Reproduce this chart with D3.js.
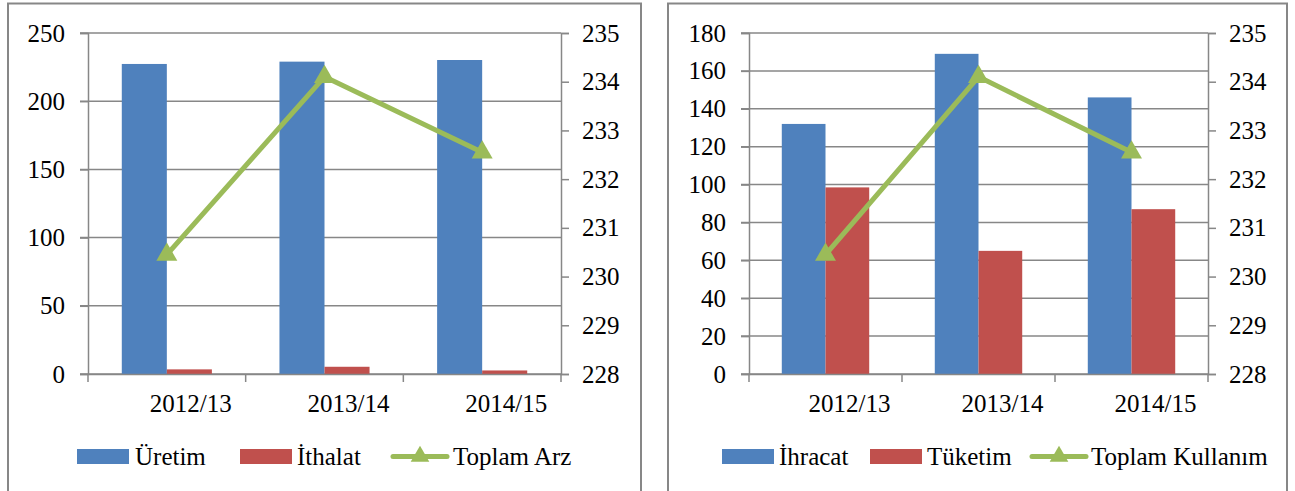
<!DOCTYPE html>
<html>
<head>
<meta charset="utf-8">
<script src="https://cdn.jsdelivr.net/npm/d3@7"></script>
<style>
  body { margin: 0; background: #fff; }
  svg text { font-family: "Liberation Serif", Tinos, "Times New Roman", Times, "DejaVu Serif", "Noto Serif", serif; fill: #000; }
</style>
</head>
<body>
<script>
// values
const years = ["2012/13", "2013/14", "2014/15"];
const uretim = [227.3, 229.0, 230.2];
const ithalat = [3.4, 5.3, 2.6];
const toplamArz = [230.45, 234.1, 232.55];
const ihracat = [132, 169, 146];
const tuketim = [98.5, 65, 87];
const toplamKullanim = [230.45, 234.1, 232.55];

const arzTicks = [0, 50, 100, 150, 200, 250];
const kullanimTicks = [0, 20, 40, 60, 80, 100, 120, 140, 160, 180];
const rightTicks = [228, 229, 230, 231, 232, 233, 234, 235];

const blue = "#4F81BD", red = "#C0504D", green = "#9BBB59", grid = "#878787";
const fontSize = 25;
const serif = '"Liberation Serif", Tinos, "Times New Roman", Times, "DejaVu Serif", "Noto Serif", serif';

const svg = d3.select("body").append("svg")
  .attr("width", 1295)
  .attr("height", 491);

const panels = [
  {
    box: [8, 641], x0: 88, x1: 561, y0: 33, y1: 374,
    ticks: arzTicks, bars: [uretim, ithalat], line: toplamArz,
    names: ["Üretim", "İthalat", "Toplam Arz"],
    legendX: [77, 135, 240, 297, 393, 453]
  },
  {
    box: [668, 1287], x0: 749, x1: 1208, y0: 33, y1: 374,
    ticks: kullanimTicks, bars: [ihracat, tuketim], line: toplamKullanim,
    names: ["İhracat", "Tüketim", "Toplam Kullanım"],
    legendX: [722, 779, 870, 927, 1032, 1091]
  }
];

const tri = d3.symbol(d3.symbolTriangle, 190);
const triSmall = d3.symbol(d3.symbolTriangle, 150);

panels.forEach(p => {
  const g = svg.append("g");

  // frame around each chart
  g.append("rect")
    .attr("x", p.box[0]).attr("y", 3.5)
    .attr("width", p.box[1] - p.box[0]).attr("height", 520)
    .attr("fill", "none").attr("stroke", grid).attr("stroke-width", 2);

  const x = d3.scaleBand().domain(years).range([p.x0, p.x1]);
  const xs = d3.scaleBand().domain([0, 1]).range([0, x.bandwidth()])
    .paddingInner(0).paddingOuter(0.75);
  const yL = d3.scaleLinear().domain([0, d3.max(p.ticks)]).range([p.y1, p.y0]);
  const yR = d3.scaleLinear().domain([d3.min(rightTicks), d3.max(rightTicks)]).range([p.y1, p.y0]);

  // gridlines
  g.append("g").selectAll("line").data(p.ticks).join("line")
    .attr("x1", p.x0 - 8).attr("x2", p.x1)
    .attr("y1", d => yL(d)).attr("y2", d => yL(d))
    .attr("stroke", grid).attr("stroke-width", 1.5);

  // bars
  p.bars.forEach((series, si) => {
    g.append("g").selectAll("rect").data(series).join("rect")
      .attr("x", (d, i) => x(years[i]) + xs(si))
      .attr("width", xs.bandwidth())
      .attr("y", d => yL(d))
      .attr("height", d => yL(0) - yL(d))
      .attr("fill", si === 0 ? blue : red);
  });

  // left axis
  const axL = g.append("g")
    .attr("transform", `translate(${p.x0},0)`)
    .call(d3.axisLeft(yL).tickValues(p.ticks).tickSize(8).tickPadding(15));
  // right axis
  const axR = g.append("g")
    .attr("transform", `translate(${p.x1},0)`)
    .call(d3.axisRight(yR).tickValues(rightTicks).tickFormat(d3.format("d")).tickSize(8).tickPadding(13));
  // x axis
  const axX = g.append("g")
    .attr("transform", `translate(0,${p.y1})`)
    .call(d3.axisBottom(x).tickSize(0).tickPadding(20));
  axX.selectAll(".tick text").attr("dx", 24);
  g.append("g").selectAll("line").data(years.concat("end")).join("line")
    .attr("x1", (d, i) => p.x0 + i * x.step()).attr("x2", (d, i) => p.x0 + i * x.step())
    .attr("y1", p.y1).attr("y2", p.y1 + 8)
    .attr("stroke", grid).attr("stroke-width", 1.5);

  [axL, axR, axX].forEach(a => {
    a.attr("font-family", null);
    a.selectAll("path.domain").attr("stroke", grid).attr("stroke-width", 1.5);
    a.selectAll(".tick line").attr("stroke", grid).attr("stroke-width", 1.5);
    a.selectAll("text").style("font-size", fontSize + "px")
      .style("font-family", serif).attr("fill", "#000");
  });

  // total line
  const lineGen = d3.line()
    .x((d, i) => x(years[i]) + x.bandwidth() / 2)
    .y(d => yR(d));
  g.append("path").datum(p.line)
    .attr("d", lineGen)
    .attr("fill", "none").attr("stroke", green).attr("stroke-width", 5)
    .attr("stroke-linejoin", "round");
  g.append("g").selectAll("path").data(p.line).join("path")
    .attr("d", tri)
    .attr("transform", (d, i) => `translate(${x(years[i]) + x.bandwidth() / 2},${yR(d)})`)
    .attr("fill", green);

  // legend
  const ly = 456.5, lb = 465;
  const lg = g.append("g");
  [blue, red].forEach((c, i) => {
    lg.append("rect")
      .attr("x", p.legendX[i * 2]).attr("y", ly - 7.5)
      .attr("width", 52).attr("height", 15).attr("fill", c);
    lg.append("text")
      .attr("x", p.legendX[i * 2 + 1]).attr("y", lb)
      .style("font-size", fontSize + "px").style("font-family", serif)
      .text(p.names[i]);
  });
  lg.append("line")
    .attr("x1", p.legendX[4]).attr("x2", p.legendX[4] + 54)
    .attr("y1", ly).attr("y2", ly)
    .attr("stroke", green).attr("stroke-width", 5).attr("stroke-linecap", "round");
  lg.append("path")
    .attr("d", triSmall)
    .attr("transform", `translate(${p.legendX[4] + 27},${ly})`)
    .attr("fill", green);
  lg.append("text")
    .attr("x", p.legendX[5]).attr("y", lb)
    .style("font-size", fontSize + "px").style("font-family", serif)
    .text(p.names[2]);
});
</script>
</body>
</html>
